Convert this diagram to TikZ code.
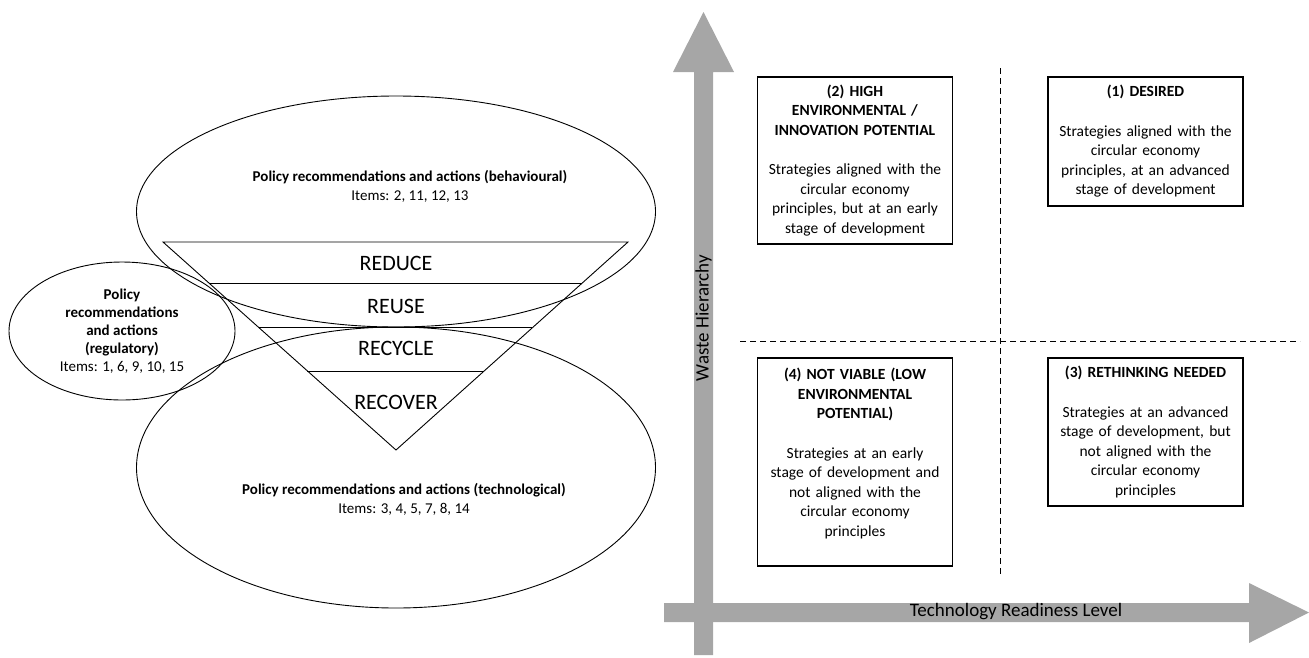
\documentclass[tikz,border=0pt]{standalone}
\usepackage{fontspec}
\setmainfont{Carlito}
\usetikzlibrary{shapes.geometric,calc}

\definecolor{axisgray}{RGB}{166,166,166}

\begin{document}
\begin{tikzpicture}[x=1pt,y=-1pt,
    policyset/.style={draw,ellipse,line width=0.9pt,inner sep=0pt},
    policytext/.style={align=center,font=\fontsize{15}{19}\selectfont},
    leveltext/.style={font=\fontsize{22}{24}\selectfont},
    quadrant/.style={draw,line width=1.2pt,align=center,text width=187pt,
        inner xsep=4pt,font=\fontsize{15.5}{19.5}\selectfont},
    axistext/.style={font=\fontsize{19}{22}\selectfont},
    divider/.style={dash pattern=on 6pt off 4pt,line width=1pt}]

    \useasboundingbox (0,0) rectangle (1309,657);

    % Draw the policy ellipses
    \node[policyset,minimum width=519pt,minimum height=231pt] (behav) at (396,211.5) {};
    \node[policyset,minimum width=519pt,minimum height=281pt] (techno) at (396,467.5) {};
    \node[policyset,minimum width=226pt,minimum height=138pt] (regul) at (122,331) {};

    % Add policy labels
    \node[policytext] (behavtxt) at (410,186) {\textbf{Policy recommendations and actions (behavioural)}\\Items: 2, 11, 12, 13};
    \node[policytext] (technotxt) at (404,499) {\textbf{Policy recommendations and actions (technological)}\\Items: 3, 4, 5, 7, 8, 14};
    \node[policytext,font=\fontsize{15}{18}\selectfont] (regultxt) at (122,331) {\textbf{Policy}\\\textbf{recommendations}\\\textbf{and actions}\\\textbf{(regulatory)}\\Items: 1, 6, 9, 10, 15};

    % Draw the waste hierarchy triangle and its levels
    \coordinate (tl) at (163,242);
    \coordinate (tr) at (628,242);
    \coordinate (apex) at (396,450);
    \draw[line width=0.9pt] (tl) -- (tr) -- (apex) -- cycle;
    \foreach \t in {0.197,0.413,0.62} {
        \draw[line width=0.9pt] ($(tl)!\t!(apex)$) -- ($(tr)!\t!(apex)$);
    }
    \node[leveltext] (reduce) at (396,263) {REDUCE};
    \node[leveltext] (reuse) at (396,306) {REUSE};
    \node[leveltext] (recycle) at (396,348) {RECYCLE};
    \node[leveltext] (recover) at (396,402) {RECOVER};

    % Draw the axes as block arrows
    \fill[axisgray] (694,655) -- (694,72) -- (673,72) -- (703.5,12) -- (734,72) -- (713,72) -- (713,655) -- cycle;
    \fill[axisgray] (664,603) -- (1249,603) -- (1249,583) -- (1309,612.5) -- (1249,643) -- (1249,622) -- (664,622) -- cycle;
    \node[axistext,rotate=90] (wastelbl) at (703.5,318) {Waste Hierarchy};
    \node[axistext] (trllbl) at (1016,612) {Technology Readiness Level};

    % Split the plane into quadrants
    \coordinate (vtop) at (1000,68);
    \coordinate (vbot) at (1000,575);
    \coordinate (hleft) at (740,341);
    \coordinate (hright) at (1300,341);
    \draw[divider] (vtop) -- (vbot);
    \draw[divider] (hleft) -- (hright);

    % Quadrant boxes
    \node[quadrant,minimum height=167pt] (highpot) at (855,160.5)
        {\textbf{(2) HIGH}\\\textbf{ENVIRONMENTAL /}\\\textbf{INNOVATION POTENTIAL}\\[20pt]
        Strategies aligned with the\\circular economy\\principles, but at an early\\stage of development};
    \node[quadrant,minimum height=129pt] (desired) at (1145.5,141.5)
        {\textbf{(1) DESIRED}\\[20pt]
        Strategies aligned with the\\circular economy\\principles, at an advanced\\stage of development};
    \node[quadrant,minimum height=208pt] (notviable) at (855,462)
        {\textbf{(4) NOT VIABLE (LOW}\\\textbf{ENVIRONMENTAL}\\\textbf{POTENTIAL)}\\[20pt]
        Strategies at an early\\stage of development and\\not aligned with the\\circular economy\\principles\rule[-20pt]{0pt}{1pt}};
    \node[quadrant,minimum height=148pt] (rethink) at (1145.5,432)
        {\textbf{(3) RETHINKING NEEDED}\\[20pt]
        Strategies at an advanced\\stage of development, but\\not aligned with the\\circular economy\\principles};

\end{tikzpicture}
\end{document}
